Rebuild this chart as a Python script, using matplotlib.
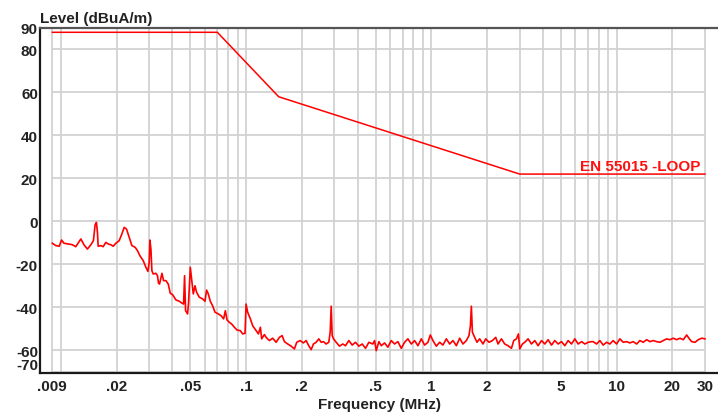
import matplotlib
matplotlib.use("Agg")
import matplotlib.pyplot as plt

plt.rcParams['font.family'] = ['Liberation Sans', 'DejaVu Sans']

# EN 55015 loop antenna limit (MHz, dBuA/m)
limit_freq = [0.009, 0.07, 0.15, 3.0, 30.0]
limit_level = [88, 88, 58, 22, 22]
limit_name = "EN 55015 -LOOP"

trace_freq = [
    0.0090, 0.0094, 0.0098, 0.0101, 0.0104, 0.0111, 0.01155, 0.01205, 0.01283, 0.01336,
    0.01392, 0.01453, 0.0150, 0.01532, 0.01557, 0.01577, 0.01591, 0.01645, 0.01693, 0.01751,
    0.01808, 0.01863, 0.01917, 0.01983, 0.02066, 0.02136, 0.02199, 0.02263, 0.0234, 0.0242,
    0.02521, 0.02595, 0.02673, 0.02785, 0.0288, 0.02953, 0.0300, 0.03027, 0.03065, 0.03103,
    0.03153, 0.03261, 0.03327, 0.03369, 0.03412, 0.03516, 0.03586, 0.03695, 0.03802, 0.03898,
    0.04011, 0.04183, 0.04361, 0.0451, 0.0460, 0.04657, 0.04716, 0.04834, 0.04895, 0.0500,
    0.05081, 0.0519, 0.05301, 0.05408, 0.05591, 0.05826, 0.06003, 0.06124, 0.06255, 0.06412,
    0.06599, 0.06798, 0.07084, 0.07326, 0.07567, 0.07729, 0.07895, 0.08124, 0.08361, 0.08647,
    0.08943, 0.09316, 0.09586, 0.09876, 0.1000, 0.1020, 0.1055, 0.1086, 0.1133, 0.1166,
    0.1195, 0.1214, 0.1256, 0.1283, 0.1336, 0.1392, 0.1453, 0.1514, 0.1565, 0.1611,
    0.1679, 0.1751, 0.1824, 0.1877, 0.1958, 0.2040, 0.2110, 0.2180, 0.2246, 0.2311,
    0.2390, 0.2469, 0.2544, 0.2617, 0.2706, 0.2796, 0.2845, 0.2881, 0.2917, 0.2965,
    0.3066, 0.3194, 0.3328, 0.3442, 0.3586, 0.3741, 0.3898, 0.4061, 0.4236, 0.4415,
    0.4600, 0.4834, 0.4938, 0.5044, 0.5210, 0.5368, 0.5591, 0.5826, 0.6078, 0.6333,
    0.6599, 0.6883, 0.7173, 0.7473, 0.7796, 0.8124, 0.8466, 0.8830, 0.9199, 0.9585,
    0.9876, 1.020, 1.064, 1.109, 1.155, 1.205, 1.256, 1.309, 1.365, 1.422,
    1.482, 1.546, 1.597, 1.625, 1.645, 1.666, 1.714, 1.764, 1.824, 1.901,
    1.966, 2.049, 2.137, 2.227, 2.291, 2.390, 2.490, 2.595, 2.707, 2.786,
    2.881, 2.953, 3.001, 3.104, 3.194, 3.328, 3.472, 3.618, 3.770, 3.933,
    4.098, 4.270, 4.454, 4.641, 4.834, 5.044, 5.255, 5.476, 5.713, 5.952,
    6.202, 6.470, 6.742, 7.025, 7.329, 7.475, 7.798, 8.124, 8.466, 8.830,
    9.199, 9.585, 10.00, 10.42, 10.86, 11.33, 11.80, 12.29, 12.83, 13.36,
    13.92, 14.53, 15.14, 15.77, 16.45, 17.14, 17.86, 18.63, 19.41, 20.22,
    21.10, 21.99, 22.91, 23.90, 24.69, 25.44, 26.50, 27.61, 28.81, 30.0,
]
trace_level = [
    -10.2, -11.3, -11.6, -8.7, -10.2, -10.6, -10.9, -11.8, -8.2, -11.0,
    -12.9, -10.9, -9.0, -1.6, -0.5, -5.1, -11.6, -11.3, -11.8, -9.8,
    -10.6, -10.9, -11.6, -10.2, -9.0, -5.9, -2.8, -3.6, -7.4, -11.3,
    -12.1, -13.7, -16.0, -18.3, -21.4, -23.3, -19.1, -8.7, -12.9, -23.0,
    -24.5, -24.2, -25.3, -28.8, -29.2, -24.2, -27.6, -27.6, -29.2, -33.5,
    -34.1, -36.6, -37.2, -38.1, -38.5, -25.3, -41.6, -43.1, -37.7, -21.4,
    -26.8, -33.8, -30.0, -33.0, -35.3, -36.1, -37.2, -32.0, -33.8, -37.2,
    -39.3, -42.3, -43.1, -43.9, -45.4, -41.6, -45.9, -47.0, -47.8, -49.3,
    -50.6, -50.9, -52.4, -52.1, -38.5, -42.3, -45.4, -48.6, -50.9, -52.4,
    -49.3, -54.7, -52.7, -54.0, -55.5, -54.4, -56.3, -54.0, -53.2, -56.0,
    -57.1, -58.1, -59.4, -56.3, -55.5, -56.6, -55.5, -57.9, -59.7, -57.1,
    -56.3, -54.7, -56.3, -56.0, -57.1, -56.3, -51.6, -39.5, -53.2, -54.7,
    -56.3, -58.1, -57.1, -57.9, -55.5, -57.6, -56.3, -58.1, -57.1, -59.1,
    -56.3, -57.1, -55.5, -60.2, -56.0, -57.9, -56.6, -58.6, -55.5, -57.1,
    -56.0, -59.1, -56.3, -54.7, -57.1, -55.5, -57.9, -54.7, -57.6, -56.3,
    -52.9, -55.5, -58.1, -56.3, -57.6, -54.7, -57.1, -55.5, -57.9, -54.4,
    -57.1, -55.5, -53.2, -48.6, -39.5, -51.6, -54.0, -56.3, -54.7, -57.1,
    -54.7, -56.3, -55.5, -54.0, -57.1, -54.7, -57.1, -57.9, -59.1, -55.5,
    -54.7, -52.4, -59.4, -57.1, -56.3, -54.7, -57.1, -55.5, -57.9, -55.5,
    -57.1, -55.1, -57.6, -55.5, -57.1, -56.0, -57.9, -55.5, -57.1, -54.7,
    -57.1, -56.0, -57.1, -56.3, -56.0, -56.0, -57.1, -55.5, -57.6, -56.3,
    -57.1, -55.5, -57.1, -54.7, -56.3, -56.0, -56.6, -56.0, -57.1, -55.5,
    -56.3, -55.1, -56.0, -55.5, -56.0, -56.3, -55.5, -54.7, -55.1, -54.4,
    -55.1, -54.4, -55.1, -52.9, -54.7, -56.0, -56.3, -55.1, -54.4, -54.7,
]

ytick_vals = [90, 80, 60, 40, 20, 0, -20, -40, -60, -70]
xtick_vals = [0.009, 0.02, 0.05, 0.1, 0.2, 0.5, 1, 2, 5, 10, 20, 30]
xtick_text = ['.009', '.02', '.05', '.1', '.2', '.5', '1', '2', '5', '10', '20', '30']
hgrid_vals = [80, 60, 40, 20, 0, -20, -40, -60, -70]

W, H = 718, 414
fig = plt.figure(figsize=(W / 100, H / 100), dpi=100)
# axes box in pixels: left 40, right 718, top 29, bottom 374
ax = fig.add_axes([40 / W, 1 - 374 / H, 678 / W, 345 / H])

# data area (0.009..30 MHz) is inset from the frame
decade_px = 185.0
ax.set_xscale('log')
ax.set_xlim(0.009 / 10 ** (12.3 / decade_px), 30 * 10 ** (13 / decade_px))
ax.set_ylim(-70.6, 90)

grid_c = '#d2d2d2'
vgrid = [0.009] + [m * 10.0 ** e for e in (-2, -1, 0) for m in range(1, 10)] + [10, 20, 30]
ax.vlines(vgrid, -70, 90, color=grid_c, lw=1.3, zorder=1)
ax.hlines(hgrid_vals, 0.009, 30, color=grid_c, lw=1.3, zorder=1)

ax.plot(limit_freq, limit_level, color='#ff0000', lw=1.1, zorder=3)
ax.plot(trace_freq, trace_level, color='#ff0000', lw=1.2, zorder=3)

ax.annotate(limit_name, xy=(30, 22), xytext=(-3.6, 3.0), textcoords='offset points',
            ha='right', va='baseline', color='#ff1010', fontsize=11, fontweight='bold')

# frame
ax.spines['right'].set_visible(False)
for side in ('left', 'bottom'):
    ax.spines[side].set_color('#1a1a1a')
    ax.spines[side].set_linewidth(1.6)
ax.spines['top'].set_color('#555555')
ax.spines['top'].set_linewidth(1.6)

ax.set_xticks(xtick_vals)
ax.set_xticklabels(xtick_text)
ax.xaxis.set_minor_locator(matplotlib.ticker.NullLocator())
ax.set_yticks(ytick_vals)
ax.set_yticklabels([str(v) for v in ytick_vals])
ax.tick_params(length=0, labelsize=11, labelcolor='#222222')
ax.tick_params(axis='x', pad=4.0)
ax.tick_params(axis='y', pad=1.5)
for lab in ax.get_xticklabels() + ax.get_yticklabels():
    lab.set_fontweight('bold')
# -70 sits on the frame, its label is pushed up
ax.get_yticklabels()[-1].set_verticalalignment('bottom')

fig.text(40 / W, 1 - 23.3 / H, "Level (dBuA/m)", ha='left', va='baseline',
         fontsize=11, fontweight='bold', color='#222222')
fig.text(379 / W, 1 - 409.3 / H, "Frequency (MHz)", ha='center', va='baseline',
         fontsize=11, fontweight='bold', color='#222222')

fig.savefig("out.png", dpi=100)
